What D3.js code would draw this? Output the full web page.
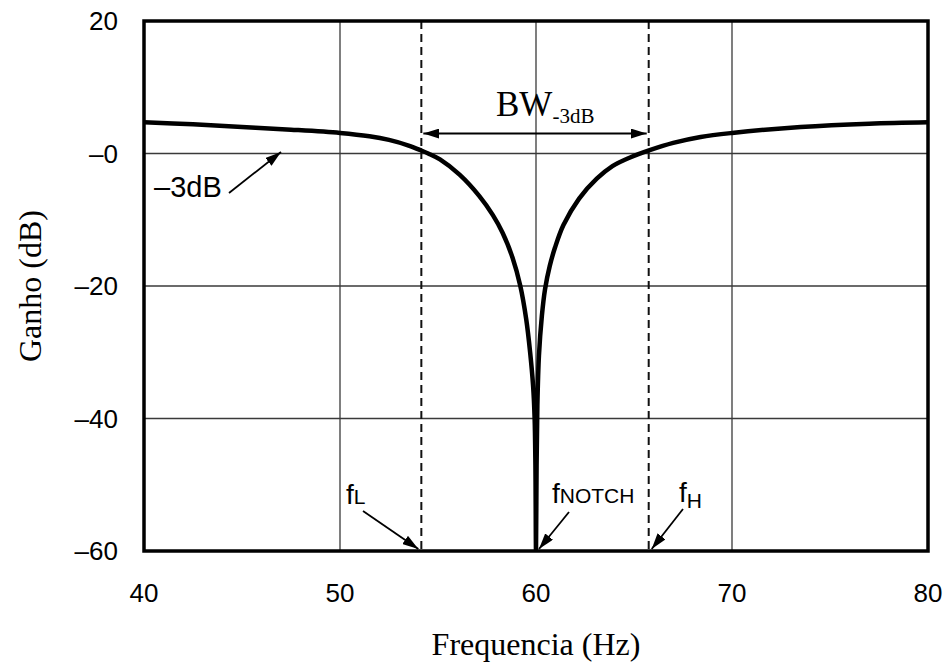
<!DOCTYPE html>
<html>
<head>
<meta charset="utf-8">
<script src="https://cdn.jsdelivr.net/npm/d3@7"></script>
<style>
  body { margin: 0; background: #fff; }
  svg { display: block; }
</style>
</head>
<body>
<svg id="chart" width="949" height="663"></svg>
<script>
// frequency response (Hz, dB)
const freqHz = [40, 42.5, 45, 47.5, 50, 51.5, 52.5, 53.5, 54.15, 54.5, 55.1, 56.1, 57.1, 57.8, 58.3, 58.8, 59.2, 59.5, 59.7, 59.85, 59.93, 59.97, 60,
                60.03, 60.07, 60.15, 60.3, 60.46, 60.7, 60.97, 61.4, 62.2, 63.1, 63.9, 64.8, 65.8, 67, 68.4, 70, 73.5, 77, 80];
const gainDb = [4.7, 4.4, 4.0, 3.6, 3.1, 2.6, 2.05, 1.2, 0.45, 0.0, -0.9, -3.2, -6.4, -9.3, -12.0, -15.7, -20, -25, -30, -35, -40, -47, -60,
                -47, -38, -30.5, -24.5, -20.5, -17, -14.2, -10.8, -6.8, -3.8, -1.9, -0.6, 0.5, 1.6, 2.5, 3.1, 4.0, 4.5, 4.7];

const xTicks = [40, 50, 60, 70, 80];
const yTicks = [20, 0, -20, -40, -60];
const yTickLabels = ["20", "\u20130", "\u201320", "\u201340", "\u201360"];

const fL = 54.15, fH = 65.75, fNotch = 60;

const svg = d3.select("#chart");
const margin = {top: 21, right: 21, bottom: 112, left: 144};
const width = 949, height = 663;

const x = d3.scaleLinear().domain([40, 80]).range([margin.left, width - margin.right]);
const y = d3.scaleLinear().domain([-60, 20]).range([height - margin.bottom, margin.top]);

const sans = "'Liberation Sans', Arial, sans-serif";
const serif = "'Liberation Serif', 'Times New Roman', serif";

// arrow head
const defs = svg.append("defs");
defs.append("marker")
    .attr("id", "head")
    .attr("viewBox", "0 0 16 10")
    .attr("refX", 16).attr("refY", 5)
    .attr("markerWidth", 16).attr("markerHeight", 10)
    .attr("markerUnits", "userSpaceOnUse")
    .attr("orient", "auto-start-reverse")
  .append("path")
    .attr("d", "M0,0 L16,5 L0,10 Z")
    .attr("fill", "#000");

defs.append("clipPath")
    .attr("id", "plot")
  .append("rect")
    .attr("x", x(40)).attr("y", y(20))
    .attr("width", x(80) - x(40)).attr("height", y(-60) - y(20));

// grid
svg.append("g")
  .selectAll("line")
  .data([50, 60, 70])
  .join("line")
    .attr("x1", d => x(d)).attr("x2", d => x(d))
    .attr("y1", y(20)).attr("y2", y(-60))
    .attr("stroke", "#3a3a3a").attr("stroke-width", 1.3);

svg.append("g")
  .selectAll("line")
  .data([0, -20, -40])
  .join("line")
    .attr("x1", x(40)).attr("x2", x(80))
    .attr("y1", d => y(d)).attr("y2", d => y(d))
    .attr("stroke", "#3a3a3a").attr("stroke-width", 1.3);

// dashed band limits
svg.append("g")
  .selectAll("line")
  .data([fL, fH])
  .join("line")
    .attr("x1", d => x(d)).attr("x2", d => x(d))
    .attr("y1", y(20)).attr("y2", y(-60))
    .attr("stroke", "#111").attr("stroke-width", 2)
    .attr("stroke-dasharray", "8,5");

// response curve
const line = d3.line()
    .x((d, i) => x(freqHz[i]))
    .y(d => y(d))
    .curve(d3.curveCatmullRom.alpha(0.5));

svg.append("path")
    .datum(gainDb)
    .attr("clip-path", "url(#plot)")
    .attr("fill", "none")
    .attr("stroke", "#000")
    .attr("stroke-width", 4.5)
    .attr("stroke-linejoin", "round")
    .attr("d", line);

// frame
svg.append("rect")
    .attr("x", x(40)).attr("y", y(20))
    .attr("width", x(80) - x(40)).attr("height", y(-60) - y(20))
    .attr("fill", "none").attr("stroke", "#000").attr("stroke-width", 3.5);

// tick labels
svg.append("g")
  .selectAll("text")
  .data(xTicks)
  .join("text")
    .attr("x", d => x(d)).attr("y", y(-60) + 51)
    .attr("text-anchor", "middle")
    .attr("font-family", sans).attr("font-size", 26)
    .text(d => d);

svg.append("g")
  .selectAll("text")
  .data(yTicks)
  .join("text")
    .attr("x", x(40) - 26).attr("y", d => y(d))
    .attr("dy", "0.36em")
    .attr("text-anchor", "end")
    .attr("font-family", sans).attr("font-size", 26)
    .text((d, i) => yTickLabels[i]);

// axis titles
svg.append("text")
    .attr("x", x(60)).attr("y", 655)
    .attr("text-anchor", "middle")
    .attr("font-family", serif).attr("font-size", 32)
    .text("Frequencia (Hz)");

svg.append("text")
    .attr("transform", `translate(41,${y(-20)}) rotate(-90)`)
    .attr("text-anchor", "middle")
    .attr("font-family", serif).attr("font-size", 32)
    .text("Ganho (dB)");

// bandwidth annotation
svg.append("line")
    .attr("x1", x(fL) + 2).attr("x2", x(fH) - 2)
    .attr("y1", y(0) - 20).attr("y2", y(0) - 20)
    .attr("stroke", "#000").attr("stroke-width", 2)
    .attr("marker-start", "url(#head)")
    .attr("marker-end", "url(#head)");

const bw = svg.append("text")
    .attr("x", 496).attr("y", 116)
    .attr("font-family", serif).attr("font-size", 35);
bw.append("tspan").text("BW");
bw.append("tspan").attr("dy", 7).attr("font-size", 21).text("-3dB");

// -3dB note
svg.append("text")
    .attr("x", 154).attr("y", 197)
    .attr("font-family", sans).attr("font-size", 29)
    .text("\u20133dB");
svg.append("line")
    .attr("x1", 229).attr("y1", 193)
    .attr("x2", 281).attr("y2", 152)
    .attr("stroke", "#000").attr("stroke-width", 1.8)
    .attr("marker-end", "url(#head)");

// frequency labels with arrows
const fLabels = [
  {f: fL, main: "f", sub: "L", tx: 346, ty: 504, subDy: 0, ax: 363, ay: 511},
  {f: fNotch, main: "f", sub: "NOTCH", tx: 552, ty: 503, subDy: 0, ax: 569, ay: 512},
  {f: fH, main: "f", sub: "H", tx: 679, ty: 502, subDy: 6, ax: 683, ay: 509}
];

const fl = svg.append("g").selectAll("g").data(fLabels).join("g");
const ft = fl.append("text")
    .attr("x", d => d.tx).attr("y", d => d.ty)
    .attr("font-family", sans).attr("font-size", 28);
ft.append("tspan").text(d => d.main);
ft.append("tspan").attr("dy", d => d.subDy).attr("font-size", 21).text(d => d.sub);
fl.append("line")
    .attr("x1", d => d.ax).attr("y1", d => d.ay)
    .attr("x2", d => x(d.f) + (d.f === fL ? -3 : 3)).attr("y2", y(-60) - 2)
    .attr("stroke", "#000").attr("stroke-width", 1.8)
    .attr("marker-end", "url(#head)");
</script>
</body>
</html>
